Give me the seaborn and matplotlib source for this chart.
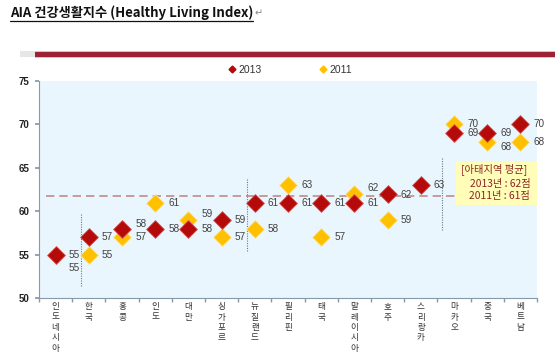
import matplotlib
matplotlib.use("Agg")
import matplotlib.pyplot as plt
import seaborn as sns
import pandas as pd
from matplotlib.lines import Line2D
from matplotlib.patches import Rectangle

# ---------------- data ----------------
countries = ["인도네시아", "한국", "홍콩", "인도", "대만", "싱가포르", "뉴질랜드", "필리핀",
             "태국", "말레이시아", "호주", "스리랑카", "마카오", "중국", "베트남"]
score_2013 = [55, 57, 58, 58, 58, 59, 61, 61, 61, 61, 62, 63, 69, 69, 70]
score_2011 = [55, 55, 57, 61, 59, 57, 58, 63, 57, 62, 59, None, 70, 68, 68]
years = ["2013", "2011"]
avg_line_value = 61.8
y_ticks = [50, 55, 60, 65, 70, 75]
title_text = "AIA 건강생활지수 (Healthy Living Index)"
note_lines = ["[아태지역 평균]", "2013년 : 62점", "2011년 : 61점"]

# label offsets (points) for individual value labels: (dx, dy)
off_2013 = {2: (9.5, 3), 10: (9.5, -1)}
off_2011 = {0: (9.5, -9.5), 4: (9.5, 4.5), 9: (9.5, 4), 13: (9.5, -3.5)}

# ---------------- style ----------------
sns.set_theme(style="white")
plt.rcParams["font.family"] = ["Noto Sans CJK KR", "DejaVu Sans"]

col13 = "#B40A0A"
col11 = "#FFC000"
bg = "#EAF6FD"
txt = "#404040"

fig = plt.figure(figsize=(5.55, 3.52), dpi=100)
ax = fig.add_axes([39 / 555, 1 - 298 / 352, (537 - 39) / 555, (298 - 81) / 352])
ax.set_facecolor(bg)

rows = []
for i, c in enumerate(countries):
    if score_2011[i] is not None:
        rows.append({"idx": i, "country": c, "year": "2011", "score": score_2011[i]})
for i, c in enumerate(countries):
    rows.append({"idx": i, "country": c, "year": "2013", "score": score_2013[i]})
df = pd.DataFrame(rows)

for yr, col, ec in [("2011", col11, "#FFE38A"), ("2013", col13, "#D85050")]:
    sub = df[df["year"] == yr]
    sns.scatterplot(data=sub, x="idx", y="score", ax=ax, marker="D", s=82,
                    color=col, edgecolor=ec, linewidth=0.6, zorder=4 if yr == "2013" else 3,
                    legend=False)

# value labels
for i in range(len(countries)):
    v = score_2013[i]
    dx, dy = off_2013.get(i, (9.5, 0))
    ax.annotate(f"{v}", (i, v), xytext=(dx, dy), textcoords="offset points",
                ha="left", va="center", fontsize=7.2, color=txt,
                family=["Liberation Sans", "DejaVu Sans"], zorder=6)
    v2 = score_2011[i]
    if v2 is not None:
        dx, dy = off_2011.get(i, (9.5, 0))
        ax.annotate(f"{v2}", (i, v2), xytext=(dx, dy), textcoords="offset points",
                    ha="left", va="center", fontsize=7.2, color=txt,
                    family=["Liberation Sans", "DejaVu Sans"], zorder=6)

# average dashed line
ax.plot([-0.3, 12.06], [avg_line_value, avg_line_value], ls=(0, (5, 3)), color="#C08A8A",
        lw=1.2, zorder=2)

# vertical dotted separators
for xv, y0, y1 in [(0.75, 51.4, 59.7), (5.75, 55.4, 63.8), (11.65, 57.8, 66.1)]:
    ax.plot([xv, xv], [y0, y1], ls=(0, (1, 1.2)), color="#6A7A8A", lw=0.8, zorder=2)

# annotation box
ax.add_patch(Rectangle((12.06, 60.7), 2.45, 5.0, facecolor="#FFFDB8", edgecolor="none",
                       zorder=5, clip_on=False))
ax.text(12.22, 64.8, note_lines[0], color="#8B2525", fontsize=7.4, va="center", ha="left", zorder=7)
ax.text(14.3, 63.1, note_lines[1], color="#8B2525", fontsize=7.4, va="center", ha="right", zorder=7)
ax.text(14.3, 61.7, note_lines[2], color="#8B2525", fontsize=7.4, va="center", ha="right", zorder=7)

# axes
ax.set_xlim(-0.47, 14.47)
ax.set_ylim(50, 75)
ax.set_yticks(y_ticks)
ax.set_yticklabels([str(t) for t in y_ticks], fontsize=7, fontweight="bold",
                   family=["Liberation Sans", "DejaVu Sans"], color="#222222")
ax.set_xticks(range(len(countries)))
ax.set_xticklabels(["\n".join(list(c)) for c in countries], fontsize=6.2, color="#333333",
                   va="top", linespacing=1.2)
ax.set_xticks([i + 0.5 for i in range(-1, len(countries))], minor=True)
ax.tick_params(axis="x", which="major", length=0, pad=3)
ax.tick_params(axis="x", which="minor", length=3, color="#8899AA", direction="out", bottom=True)
ax.tick_params(axis="y", length=3, color="#8899AA", direction="out", left=True, pad=4)
ax.set_xlabel("")
ax.set_ylabel("")
for s in ["top", "right"]:
    ax.spines[s].set_visible(False)
for s in ["left", "bottom"]:
    ax.spines[s].set_color("#8899AA")
    ax.spines[s].set_linewidth(0.8)

# legend
handles = [Line2D([], [], marker="D", ls="none", color=col13, markersize=3.5),
           Line2D([], [], marker="D", ls="none", color=col11, markersize=3.5)]
fig.legend(handles, years, loc="center", bbox_to_anchor=(290 / 555, 1 - 70 / 352), ncol=2,
           frameon=False, handletextpad=0.2, columnspacing=5.5,
           handlelength=0.8, labelcolor="#333333",
           prop={"family": ["Liberation Sans", "DejaVu Sans"], "size": 7.5})

# title with underline
t = fig.text(10 / 555, 1 - 13 / 352, title_text, fontsize=9.5, fontweight="bold",
             color="#111111", va="center", ha="left")
fig.canvas.draw()
bb = t.get_window_extent()
x0, x1 = bb.x0 / fig.bbox.width, bb.x1 / fig.bbox.width
yl = (bb.y0 - 1) / fig.bbox.height
fig.add_artist(Line2D([x0, x1], [yl, yl], color="#111111", lw=0.9,
                      transform=fig.transFigure))
fig.text(x1 + 1 / 555, 1 - 13 / 352, "↵", fontsize=7, color="#888888", va="center",
         ha="left", family=["DejaVu Sans"])

# header bar
fig.add_artist(Rectangle((20 / 555, 1 - 57 / 352), 15 / 555, 6 / 352, transform=fig.transFigure,
                         facecolor="#E6E6E6", edgecolor="none"))
fig.add_artist(Rectangle((35 / 555, 1 - 57.5 / 352), 520 / 555, 7 / 352, transform=fig.transFigure,
                         facecolor="#F0B8C0", edgecolor="none"))
fig.add_artist(Rectangle((35 / 555, 1 - 56.5 / 352), 520 / 555, 5 / 352, transform=fig.transFigure,
                         facecolor="#9B2335", edgecolor="none"))

fig.savefig("out.png", dpi=100, facecolor="white")
